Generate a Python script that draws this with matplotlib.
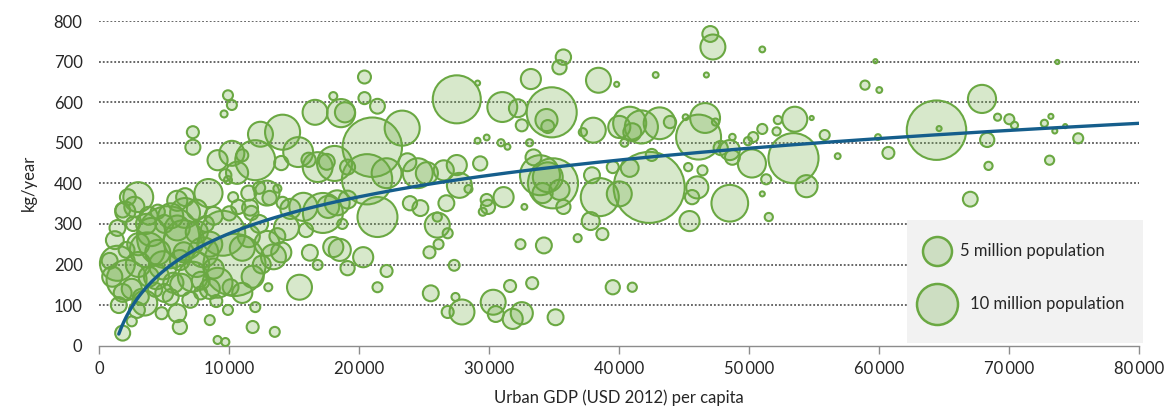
import numpy as np
import matplotlib
matplotlib.use("Agg")
import matplotlib.pyplot as plt
from matplotlib.patches import Rectangle
from matplotlib.ticker import FuncFormatter

plt.rcParams['font.family'] = ['Lato', 'DejaVu Sans']

# ---- data: urban GDP per capita (USD 2012), waste (kg/year), population (millions)
gdp = [47000, 47200, 51000, 59700, 73700, 58900, 60000, 67900, 53500, 54800,
       52200, 52100, 51000, 50300, 48700, 55800, 53400, 50200, 48500, 54400,
       51300, 51000, 51500, 48500, 56800, 59900, 60700, 64400, 68300, 68400,
       67000, 69100, 70000, 70400, 72700, 73200, 73500, 73100, 75300, 74300,
       64600, 42800, 46700, 39800, 40800, 41700, 43100, 43900, 40000, 41000,
       46600, 46100, 45100, 47400, 49900, 47800, 46000, 45600, 45400, 46400,
       45300, 42300, 40800, 39500, 42500, 48700, 41000, 39500, 35100, 33300,
       31600, 32500, 31800, 30300, 30500, 27900, 26800, 27400, 25500, 21400,
       22100, 27300, 25400, 26100, 34200, 32400, 36800, 38700, 37800, 38500,
       40000, 18500, 19100, 20300, 18000, 18700, 21400, 26000, 26800, 26700,
       24700, 23900, 28400, 27700, 29900, 29500, 31100, 29800, 32700, 34900,
       34100, 35700, 20400, 20400, 21400, 18900, 27500, 29100, 33200, 35400,
       35700, 38400, 31000, 32200, 34800, 34400, 34500, 32500, 38000, 37200,
       40400, 23300, 21000, 20600, 26500, 27500, 29300, 33900, 34500, 33400,
       35400, 37900, 24500, 25200, 23700, 22100, 29800, 30900, 29100, 31400,
       33100, 26000, 9900, 10200, 9600, 7200, 7200, 18000, 16600, 18600,
       12400, 14100, 15300, 12000, 10200, 11000, 14000, 16800, 18100, 19100,
       9700, 9900, 3000, 2200, 2700, 6600, 8400, 10300, 11500, 12900,
       13700, 14100, 15700, 17600, 19100, 4500, 6600, 10700, 11700, 1800,
       1400, 1200, 1400, 2100, 1800, 2900, 3500, 4300, 5300, 6500,
       9500, 10400, 12900, 14400, 14700, 11600, 6000, 3700, 6200, 4400,
       5700, 7200, 7000, 6000, 6200, 4800, 8500, 9900, 9100, 9700,
       12000, 13000, 11800, 13500, 11000, 10100, 9100, 15400, 16200, 16800,
       17200, 18300, 15900, 13100, 12300, 10000, 10600, 9100, 16100, 17500,
       2100, 800, 1800, 13400, 4900, 8000, 3600, 5000, 8200, 5500,
       7800, 9000, 2500,
       2000, 3800, 5500, 7500, 8800, 4000, 6000, 7500, 8500, 11500,
       12300, 13700, 3000, 4500, 6500, 7500, 8800, 3000, 2500, 3800,
       5000, 6300, 7800, 8500, 11800, 12500, 14000, 11000, 2600, 1000,
       1500, 3200]
waste = [768, 736, 730, 701, 699, 642, 630, 608, 558, 561,
         556, 528, 534, 514, 514, 519, 462, 449, 482, 393,
         410, 374, 317, 351, 467, 514, 475, 531, 507, 443,
         361, 563, 558, 543, 548, 565, 529, 457, 511, 541,
         535, 667, 667, 644, 548, 539, 548, 551, 539, 526,
         561, 514, 563, 551, 504, 487, 390, 366, 307, 432,
         440, 390, 438, 440, 470, 464, 144, 144, 70, 154,
         147, 80, 66, 107, 78, 83, 83, 120, 129, 144,
         184, 198, 230, 250, 247, 250, 265, 275, 307, 366,
         374, 236, 191, 218, 243, 300, 317, 297, 277, 351,
         339, 351, 386, 395, 342, 330, 366, 359, 342, 400,
         376, 342, 662, 610, 590, 575, 607, 647, 657, 686,
         711, 654, 588, 585, 575, 556, 540, 543, 531, 526,
         500, 536, 489, 410, 432, 445, 449, 420, 415, 464,
         384, 420, 425, 425, 452, 425, 513, 500, 505, 490,
         500, 317, 617, 593, 571, 526, 489, 615, 575, 573,
         521, 526, 477, 457, 474, 469, 450, 440, 449, 440,
         420, 408, 366, 366, 342, 366, 376, 366, 376, 376,
         387, 352, 342, 342, 360, 330, 327, 342, 327, 31,
         290, 260, 203, 162, 130, 88, 105, 138, 267, 260,
         277, 199, 252, 291, 337, 340, 357, 236, 211, 170,
         155, 170, 113, 80, 46, 80, 63, 88, 14, 9,
         95, 144, 46, 34, 130, 144, 155, 144, 229, 199,
         327, 352, 285, 364, 389, 326, 426, 457, 458, 453,
         236, 209, 334, 219, 198, 230, 300, 300, 300, 120,
         130, 110, 60,
         330, 320, 320, 335, 320, 280, 290, 280, 250, 270,
         300, 270, 250, 230, 230, 200, 190, 200, 140, 170,
         130, 150, 160, 140, 170, 200, 230, 240, 300, 170,
         100, 120]
population = [1.5, 3.7, 0.2, 0.1, 0.1, 0.5, 0.2, 4.7, 3.7, 0.1,
              0.4, 0.4, 0.6, 0.6, 0.25, 0.6, 14.9, 4.7, 2.4, 2.9,
              0.6, 0.15, 0.4, 8.0, 0.2, 0.2, 0.85, 21.0, 1.2, 0.4,
              1.3, 0.3, 0.6, 0.3, 0.3, 0.15, 0.15, 0.5, 0.6, 0.1,
              0.15, 0.2, 0.15, 0.15, 6.5, 6.5, 6.0, 0.9, 2.9, 1.9,
              5.3, 12.0, 0.2, 0.3, 0.4, 1.2, 2.9, 1.2, 2.4, 0.6,
              0.4, 30.0, 1.9, 0.86, 0.86, 1.3, 0.5, 1.2, 1.5, 0.86,
              0.86, 2.9, 2.4, 3.7, 1.5, 3.7, 0.86, 0.38, 1.5, 0.59,
              0.86, 0.7, 0.86, 0.59, 1.5, 0.59, 0.38, 0.86, 1.9, 8.6,
              3.7, 2.9, 1.2, 2.4, 2.4, 0.6, 9.5, 3.7, 0.6, 1.5,
              1.5, 1.2, 0.38, 3.7, 1.2, 0.38, 2.4, 0.86, 0.2, 14.9,
              2.4, 1.2, 1.0, 0.86, 1.3, 2.4, 13.7, 0.15, 2.4, 1.2,
              1.4, 3.7, 5.3, 1.9, 14.9, 2.9, 1.0, 0.86, 3.7, 0.4,
              0.38, 7.3, 21.0, 15.0, 2.4, 2.4, 1.2, 9.5, 5.3, 1.5,
              2.4, 1.5, 5.3, 2.9, 1.9, 5.3, 0.2, 0.3, 0.2, 0.2,
              0.3, 0.5, 0.59, 0.59, 0.29, 0.86, 1.34, 0.38, 3.7, 4.7,
              3.7, 7.3, 5.3, 9.5, 3.7, 0.86, 1.2, 5.3, 7.3, 1.34,
              0.86, 0.38, 5.3, 1.5, 2.4, 1.9, 4.7, 0.59, 1.34, 3.7,
              0.38, 0.86, 4.7, 2.9, 1.9, 1.2, 5.3, 1.2, 1.2, 1.34,
              1.5, 1.9, 7.3, 9.5, 1.9, 1.5, 3.7, 1.2, 23.0, 9.5,
              12.0, 23.0, 3.7, 3.7, 2.4, 1.5, 2.4, 7.3, 2.4, 3.7,
              2.4, 5.3, 1.5, 1.9, 1.2, 0.86, 0.59, 0.59, 0.38, 0.38,
              0.59, 0.38, 0.86, 0.59, 2.4, 1.5, 5.3, 3.7, 1.5, 0.59,
              9.5, 3.7, 1.2, 1.2, 0.86, 1.2, 2.9, 2.4, 1.2, 1.5,
              1.5, 1.5, 1.3, 3.7, 4.7, 5.3, 2.4, 1.9, 1.5, 1.5,
              1.0, 0.86, 0.6,
              2.4, 1.9, 3.7, 2.4, 1.9, 4.7, 3.7, 2.9, 3.7, 2.9,
              1.9, 1.5, 2.9, 3.7, 2.4, 3.7, 2.4, 3.7, 2.4, 2.4,
              1.9, 2.9, 1.9, 2.4, 2.9, 1.9, 2.4, 3.7, 1.2, 2.4,
              1.5, 1.5]

# logarithmic trend line: waste = a*ln(gdp) + b
trend_a = 130.6
trend_b = -926.5
trend_range = [1500, 80000]

legend_pops = [5, 10]
legend_labels = ["5 million population", "10 million population"]

x_ticks = [0, 10000, 20000, 30000, 40000, 50000, 60000, 70000, 80000]
y_ticks = [0, 100, 200, 300, 400, 500, 600, 700, 800]

# ---- style
fill = (112/255, 173/255, 71/255, 0.28)
edge = '#6aa842'
size_per_million = 87.2  # pt^2 per million population

fig = plt.figure(figsize=(11.72, 4.12), dpi=100)
ax = fig.add_axes([0.0847, 0.161, 0.9874 - 0.0847 - 0.0153, 0.788])

ax.set_xlim(0, 80000)
ax.set_ylim(0, 800)

# gridlines (dotted)
for yv in y_ticks[1:]:
    ax.axhline(yv, color='#3d3d3d', lw=1.1, ls=(0, (1.2, 1.3)), zorder=0)

# bubbles
ax.scatter(gdp, waste, s=np.array(population) * size_per_million,
           facecolor=fill, edgecolor=edge, linewidth=1.5, zorder=2, clip_on=False)

# trend line
xt = np.linspace(trend_range[0], trend_range[1], 400)
ax.plot(xt, trend_a * np.log(xt) + trend_b, color='#155e8c', lw=2.4, zorder=3,
        solid_capstyle='round')

# legend box (covers the lower right gridlines)
box_x0, box_x1 = 62100, 80300
box_y0, box_y1 = 6, 309
ax.add_patch(Rectangle((box_x0, box_y0), box_x1 - box_x0, box_y1 - box_y0,
                       facecolor='#f2f2f2', edgecolor='none', zorder=1, clip_on=False))
leg_y = [233, 103]
leg_text_x = [66200, 67000]
for p, lab, yy, tx in zip(legend_pops, legend_labels, leg_y, leg_text_x):
    ax.scatter([64450], [yy], s=p * size_per_million, facecolor=fill,
               edgecolor=edge, linewidth=1.8, zorder=4)
    ax.text(tx, yy, lab, fontsize=12, color='#262626', va='center', ha='left', zorder=5)

# axes styling
for side in ['top', 'right', 'left']:
    ax.spines[side].set_visible(False)
ax.spines['bottom'].set_color('#8c8c8c')
ax.spines['bottom'].set_linewidth(1.0)
ax.spines['bottom'].set_zorder(1.5)

ax.set_xticks(x_ticks)
ax.set_yticks(y_ticks)
ax.xaxis.set_major_formatter(FuncFormatter(
    lambda v, p: "0" if v == 0 else f"{int(v)//1000}\u2009000"))
ax.tick_params(axis='x', direction='out', length=6, width=1.0, color='#8c8c8c',
               labelsize=12, labelcolor='#262626', pad=5)
ax.tick_params(axis='y', length=0, labelsize=12, labelcolor='#262626', pad=12)

ax.set_xlabel("Urban GDP (USD 2012) per capita", fontsize=12, color='#262626', labelpad=9)
ax.set_ylabel("kg/year", fontsize=12, color='#262626', labelpad=12)

fig.savefig("out.png", dpi=100)
